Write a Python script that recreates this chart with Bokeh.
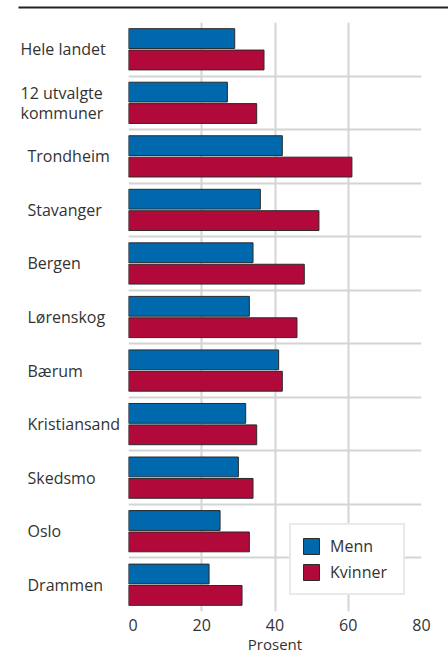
import numpy as np
from bokeh.plotting import figure
from bokeh.models import ColumnDataSource, FixedTicker, Range1d, Legend, LegendItem
from bokeh.layouts import column, row
from bokeh.core.properties import value
from bokeh.embed import file_html
from bokeh.resources import INLINE

categories = ["Hele landet", "12 utvalgte\nkommuner", "Trondheim", "Stavanger", "Bergen",
              "Lørenskog", "Bærum", "Kristiansand", "Skedsmo", "Oslo", "Drammen"]
menn = [29, 27, 42, 36, 34, 33, 41, 32, 30, 25, 22]
kvinner = [37, 35, 61, 52, 48, 46, 42, 35, 34, 33, 31]
x_ticks = [0, 20, 40, 60, 80]

FONT = "Open Sans"
TXT = "#333333"
BLUE = "#0068ad"
RED = "#b10a3a"
GRID = "#d4d4d4"

H = 648
TOP = 10
BOTTOM = 49

n = len(categories)
ypos = (n - 1 - np.arange(n)) + 0.5
label_x = [20 if i < 2 else 27 for i in range(n)]

src = ColumnDataSource(dict(cat=categories, y=ypos, ym=ypos + 0.2, yk=ypos - 0.2,
                            menn=menn, kvinner=kvinner, lx=label_x))

# top rule
tf = figure(width=448, height=12, output_backend="svg", toolbar_location=None,
            x_range=Range1d(0, 448), y_range=Range1d(12, 0),
            x_axis_location=None, y_axis_location=None,
            min_border_left=0, min_border_right=0, min_border_top=0, min_border_bottom=0)
tf.outline_line_color = None
tf.grid.visible = False
tf.segment(x0=[18], y0=[7], x1=[448], y1=[7], line_color="#222222", line_width=2)

# left label panel
lf = figure(width=128, height=H, output_backend="svg", toolbar_location=None,
            x_range=Range1d(0, 128), y_range=Range1d(0, n),
            x_axis_location=None, y_axis_location=None,
            min_border_left=0, min_border_right=0, min_border_top=TOP, min_border_bottom=BOTTOM)
lf.outline_line_color = None
lf.grid.visible = False
lf.text(x="lx", y="y", text="cat", source=src, text_font=value(FONT),
        text_font_size="16px", text_color=TXT, text_align="left",
        text_baseline="middle", text_line_height=0.92)

# main plot
p = figure(width=320, height=H, output_backend="svg", toolbar_location=None,
           x_range=Range1d(0, 80), y_range=Range1d(0, n), y_axis_location=None,
           min_border_left=0, min_border_right=27, min_border_top=TOP, min_border_bottom=BOTTOM)
p.outline_line_color = None

rm = p.hbar(y="ym", right="menn", left=0, height=0.37, source=src,
            fill_color=BLUE, line_color="#2a2a2a", line_width=1)
rk = p.hbar(y="yk", right="kvinner", left=0, height=0.37, source=src,
            fill_color=RED, line_color="#2a2a2a", line_width=1)

p.xaxis.ticker = FixedTicker(ticks=x_ticks)
p.xaxis.axis_line_color = None
p.xaxis.major_tick_line_color = None
p.xaxis.major_tick_out = 0
p.xaxis.major_tick_in = 0
p.xaxis.minor_tick_line_color = None
p.xaxis.major_label_text_font = FONT
p.xaxis.major_label_text_font_size = "16px"
p.xaxis.major_label_text_color = TXT
p.xaxis.major_label_standoff = 7
p.xaxis.axis_label = "Prosent"
p.xaxis.axis_label_text_font = FONT
p.xaxis.axis_label_text_font_size = "15px"
p.xaxis.axis_label_text_font_style = "normal"
p.xaxis.axis_label_text_color = TXT
p.xaxis.axis_label_standoff = 0

p.xgrid.ticker = FixedTicker(ticks=x_ticks)
p.xgrid.grid_line_color = GRID
p.xgrid.grid_line_width = 2
p.ygrid.ticker = FixedTicker(ticks=list(range(n + 1)))
p.ygrid.grid_line_color = GRID
p.ygrid.grid_line_width = 2

legend = Legend(items=[LegendItem(label="Menn", renderers=[rm]),
                       LegendItem(label="Kvinner", renderers=[rk])],
                location="bottom_right")
legend.margin = 16
legend.padding = 10
legend.spacing = 4
legend.glyph_width = 20
legend.glyph_height = 20
legend.label_height = 20
legend.label_width = 63
legend.label_text_font = FONT
legend.label_text_font_size = "16px"
legend.label_text_color = TXT
legend.label_standoff = 9
legend.border_line_color = GRID
legend.border_line_width = 2
legend.background_fill_alpha = 1
p.add_layout(legend)

layout = column(tf, row(lf, p, spacing=0), spacing=0)
open("out.html", "w").write(file_html(layout, INLINE))
